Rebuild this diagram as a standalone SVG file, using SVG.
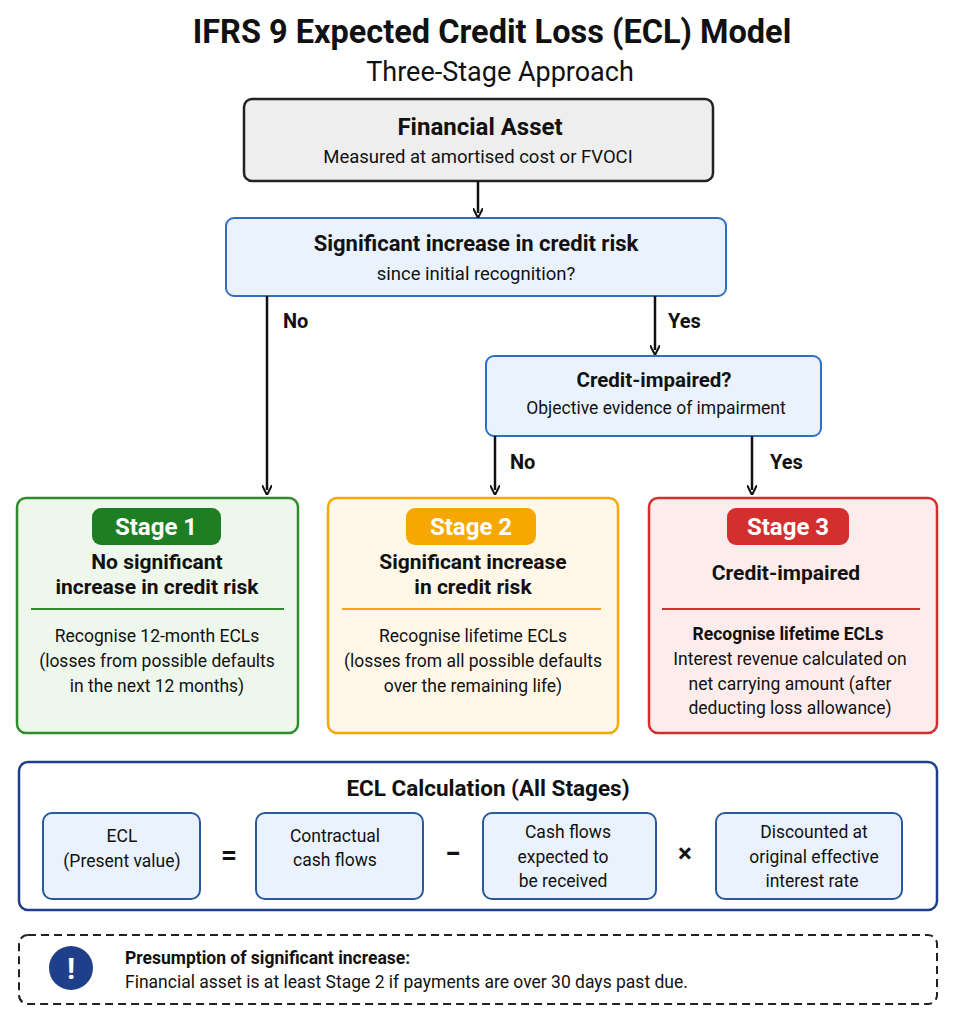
<svg xmlns="http://www.w3.org/2000/svg" width="955" height="1022" viewBox="0 0 955 1022">
<defs>
<marker id="ah" markerWidth="10" markerHeight="10" refX="5" refY="5" orient="auto" markerUnits="userSpaceOnUse" viewBox="0 0 10 10"><path d="M0,0 L10,5 L0,10" fill="none" stroke="#111" stroke-width="2"/></marker>
<style>
text{font-family:Roboto,"Liberation Sans",sans-serif;fill:#111;text-anchor:middle}
.b{font-weight:bold}
.t{font-size:17.5px}
.h{font-size:21px;font-weight:bold}
.badge{font-size:24px;font-weight:bold;fill:#fff}
.lab{font-size:20px;font-weight:bold;text-anchor:start}
.conn line{stroke:#111;stroke-width:2.5;marker-end:url(#ah)}
.sub{fill:#eaf3fd;stroke:#2a5a9a;stroke-width:2}
</style>
</defs>
<rect width="955" height="1022" fill="#fff"/>
<text x="492" y="43" class="b" font-size="32.5">IFRS 9 Expected Credit Loss (ECL) Model</text>
<text x="500" y="81" font-size="27">Three-Stage Approach</text>

<g id="financial-asset"><rect x="244" y="99" width="469" height="82" rx="8" fill="#eeeeee" stroke="#222" stroke-width="2.5"/>
<text x="480" y="135" class="b" font-size="24">Financial Asset</text><text x="478" y="163" font-size="18.5">Measured at amortised cost or FVOCI</text></g>

<g id="sicr"><rect x="226" y="218" width="500" height="78" rx="8" fill="#eaf3fd" stroke="#2f6fc0" stroke-width="2"/>
<text x="476" y="251" class="b" font-size="22">Significant increase in credit risk</text><text x="476" y="280" font-size="18.5">since initial recognition?</text></g>

<g id="credit-impaired"><rect x="486" y="356" width="335" height="80" rx="8" fill="#eaf3fd" stroke="#2f6fc0" stroke-width="2"/>
<text x="654" y="387" class="b" font-size="20.5">Credit-impaired?</text><text x="656" y="414" font-size="17.5">Objective evidence of impairment</text></g>

<g class="conn" id="connectors">
<line x1="478" y1="181" x2="478" y2="213"/>
<line x1="267" y1="296" x2="267" y2="490"/>
<line x1="655" y1="296" x2="655" y2="350"/>
<line x1="495" y1="436" x2="495" y2="490"/>
<line x1="752" y1="436" x2="752" y2="490"/>
<text x="283" y="328" class="lab">No</text>
<text x="668" y="328" class="lab">Yes</text>
<text x="510" y="469" class="lab">No</text>
<text x="770" y="469" class="lab">Yes</text>
</g>

<g id="stage1"><rect x="17" y="498" width="281" height="235" rx="9" fill="#eef7ec" stroke="#2e8b2e" stroke-width="2.5"/>
<rect x="92" y="508" width="129" height="37" rx="9" fill="#1e7e24"/><text x="156" y="535" class="badge">Stage 1</text>
<text x="157" y="569" class="h">No significant</text><text x="157" y="594" class="h">increase in credit risk</text>
<line x1="31" y1="609" x2="284" y2="609" stroke="#2e8b2e" stroke-width="2"/>
<text x="157" y="642" class="t">Recognise 12-month ECLs</text><text x="157" y="667" class="t">(losses from possible defaults</text><text x="157" y="692" class="t">in the next 12 months)</text></g>

<g id="stage2"><rect x="328" y="498" width="290" height="235" rx="9" fill="#fff8e8" stroke="#f5a800" stroke-width="2.5"/>
<rect x="406" y="508" width="130" height="37" rx="9" fill="#f6a800"/><text x="471" y="535" class="badge">Stage 2</text>
<text x="473" y="569" class="h">Significant increase</text><text x="473" y="594" class="h">in credit risk</text>
<line x1="342" y1="609" x2="601" y2="609" stroke="#f5a800" stroke-width="2"/>
<text x="473" y="642" class="t">Recognise lifetime ECLs</text><text x="473" y="667" class="t">(losses from all possible defaults</text><text x="473" y="692" class="t">over the remaining life)</text></g>

<g id="stage3"><rect x="649" y="498" width="288" height="235" rx="9" fill="#fdecec" stroke="#d32f2f" stroke-width="2.5"/>
<rect x="727" y="508" width="122" height="37" rx="9" fill="#d32f2f"/><text x="788" y="535" class="badge">Stage 3</text>
<text x="786" y="580" class="h">Credit-impaired</text>
<line x1="662" y1="609" x2="920" y2="609" stroke="#d32f2f" stroke-width="2"/>
<text x="788" y="640" class="t b">Recognise lifetime ECLs</text><text x="790" y="665" class="t">Interest revenue calculated on</text><text x="790" y="690" class="t">net carrying amount (after</text><text x="790" y="714" class="t">deducting loss allowance)</text></g>

<g id="ecl-calc"><rect x="19" y="762" width="918" height="148" rx="9" fill="#fff" stroke="#1f3f8a" stroke-width="2.5"/>
<text x="488" y="796" class="b" font-size="22.5">ECL Calculation (All Stages)</text>
<rect class="sub" x="43" y="813" width="157" height="86" rx="9"/><text x="122" y="842" class="t">ECL</text><text x="122" y="867" class="t">(Present value)</text>
<text x="229" y="864" class="b" font-size="28">=</text>
<rect class="sub" x="256" y="813" width="167" height="86" rx="9"/><text x="335" y="842" class="t">Contractual</text><text x="335" y="866" class="t">cash flows</text>
<text x="453" y="863" class="b" font-size="28">−</text>
<rect class="sub" x="483" y="813" width="173" height="86" rx="9"/><text x="568" y="838" class="t">Cash flows</text><text x="563" y="863" class="t">expected to</text><text x="563" y="887" class="t">be received</text>
<text x="685" y="862" class="b" font-size="26">×</text>
<rect class="sub" x="716" y="813" width="186" height="86" rx="9"/><text x="814" y="838" class="t">Discounted at</text><text x="814" y="863" class="t">original effective</text><text x="812" y="887" class="t">interest rate</text></g>

<g id="note"><rect x="19" y="935" width="918" height="69" rx="9" fill="#fff" stroke="#222" stroke-width="2" stroke-dasharray="8,5"/>
<ellipse cx="71" cy="968" rx="22" ry="22" fill="#1f3f8a"/><text x="71" y="979" class="b" font-size="30" style="fill:#fff">!</text>
<text x="125" y="964" class="t b" style="text-anchor:start">Presumption of significant increase:</text>
<text x="125" y="988" class="t" style="text-anchor:start">Financial asset is at least Stage 2 if payments are over 30 days past due.</text></g>
</svg>
